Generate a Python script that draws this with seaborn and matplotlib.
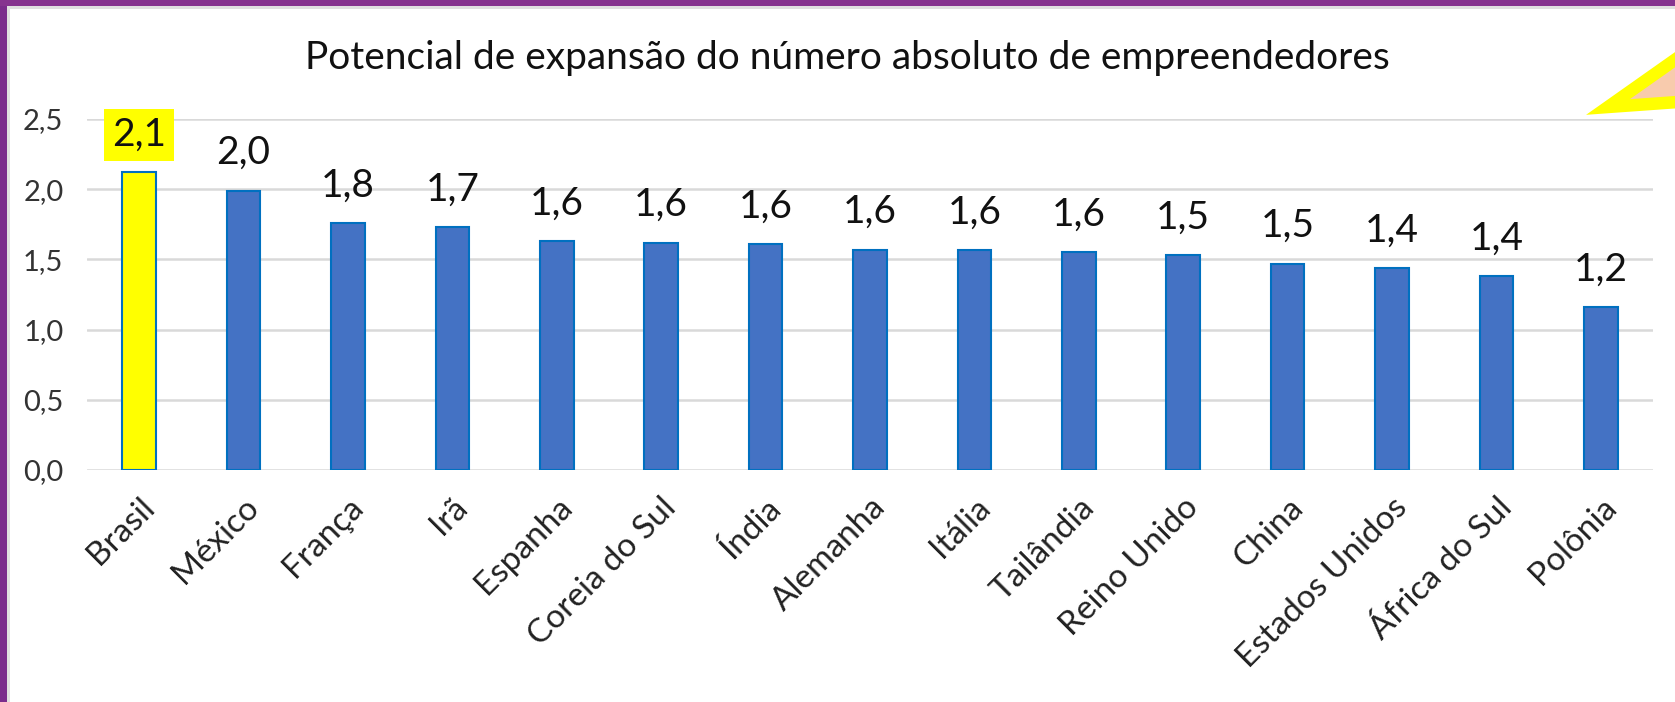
import matplotlib
matplotlib.use("Agg")
import matplotlib.pyplot as plt
import seaborn as sns
from matplotlib.patches import Rectangle, Polygon

countries = ["Brasil", "México", "França", "Irã", "Espanha", "Coreia do Sul", "Índia",
             "Alemanha", "Itália", "Tailândia", "Reino Unido", "China", "Estados Unidos",
             "África do Sul", "Polônia"]
values = [2.12, 1.99, 1.76, 1.73, 1.63, 1.62, 1.61, 1.57, 1.565, 1.55, 1.53, 1.47, 1.44,
          1.38, 1.16]
title = "Potencial de expansão do número absoluto de empreendedores"
yticks = [0.0, 0.5, 1.0, 1.5, 2.0, 2.5]

sns.set_theme(style="white")
plt.rcParams["font.family"] = ["Lato", "DejaVu Sans"]

W, H = 1675, 702
fig = plt.figure(figsize=(W / 100, H / 100), dpi=100)
ax = fig.add_axes([87 / W, 1 - 470 / H, (1653 - 87) / W, (470 - 119) / H])

colors = ["#FFFF00"] + ["#4472C4"] * (len(countries) - 1)
sns.barplot(x=countries, y=values, hue=countries, palette=colors, legend=False,
            width=0.32, edgecolor="#0070C0", linewidth=1.5, saturation=1, ax=ax)

ax.set_ylim(0, 2.5)
ax.set_yticks(yticks)
ax.set_yticklabels([f"{t:.1f}".replace(".", ",") for t in yticks], fontsize=21, color="#333333")
ax.yaxis.grid(True, color="#D9D9D9", linewidth=1.8)
ax.set_axisbelow(True)
for s in ax.spines.values():
    s.set_visible(False)
ax.tick_params(axis="y", length=0, pad=17)
ax.tick_params(axis="x", length=0, pad=16)
ax.set_xlim(-0.5, len(countries) - 0.5)
plt.setp(ax.get_xticklabels(), rotation=45, ha="right", rotation_mode="anchor",
         fontsize=24, color="#222222")
ax.set_xlabel("")
ax.set_ylabel("")

for i, (c, v) in enumerate(zip(countries, values)):
    txt = f"{v:.1f}".replace(".", ",")
    kw = {}
    if i == 0:
        kw["bbox"] = dict(boxstyle="square,pad=0.2", facecolor="#FFFF00", edgecolor="none")
    ax.annotate(txt, (i, v), xytext=(0, 14), textcoords="offset points",
                ha="center", va="bottom", fontsize=28, color="#111111", **kw)

fig.text(847 / W, 1 - 58 / H, title, ha="center", va="center", fontsize=28, color="#111111")

# frame decoration: purple strip at left and top
fig.patches.append(Rectangle((0, 0), 7 / W, 1, transform=fig.transFigure,
                             facecolor="#7B2C8C", edgecolor="none", zorder=5))
fig.patches.append(Rectangle((0, 1 - 6 / H), 1, 6 / H, transform=fig.transFigure,
                             facecolor="#86338F", edgecolor="none", zorder=5))
fig.patches.append(Rectangle((7 / W, 0), 3 / W, 1 - 6 / H, transform=fig.transFigure,
                             facecolor="#E0E0E0", edgecolor="none", zorder=5))
fig.patches.append(Rectangle((7 / W, 1 - 9 / H), 1, 3 / H, transform=fig.transFigure,
                             facecolor="#E0E0E0", edgecolor="none", zorder=5))

# yellow arrow callout at the top right
pts = [(1608, 107), (1720, 28), (1720, 99)]
fig.patches.append(Polygon([(x / W, 1 - y / H) for x, y in pts], closed=True,
                           transform=fig.transFigure, facecolor="#F8CBAD",
                           edgecolor="#FFFF00", linewidth=9, joinstyle="miter", zorder=4))

fig.savefig("out.png", dpi=100)
